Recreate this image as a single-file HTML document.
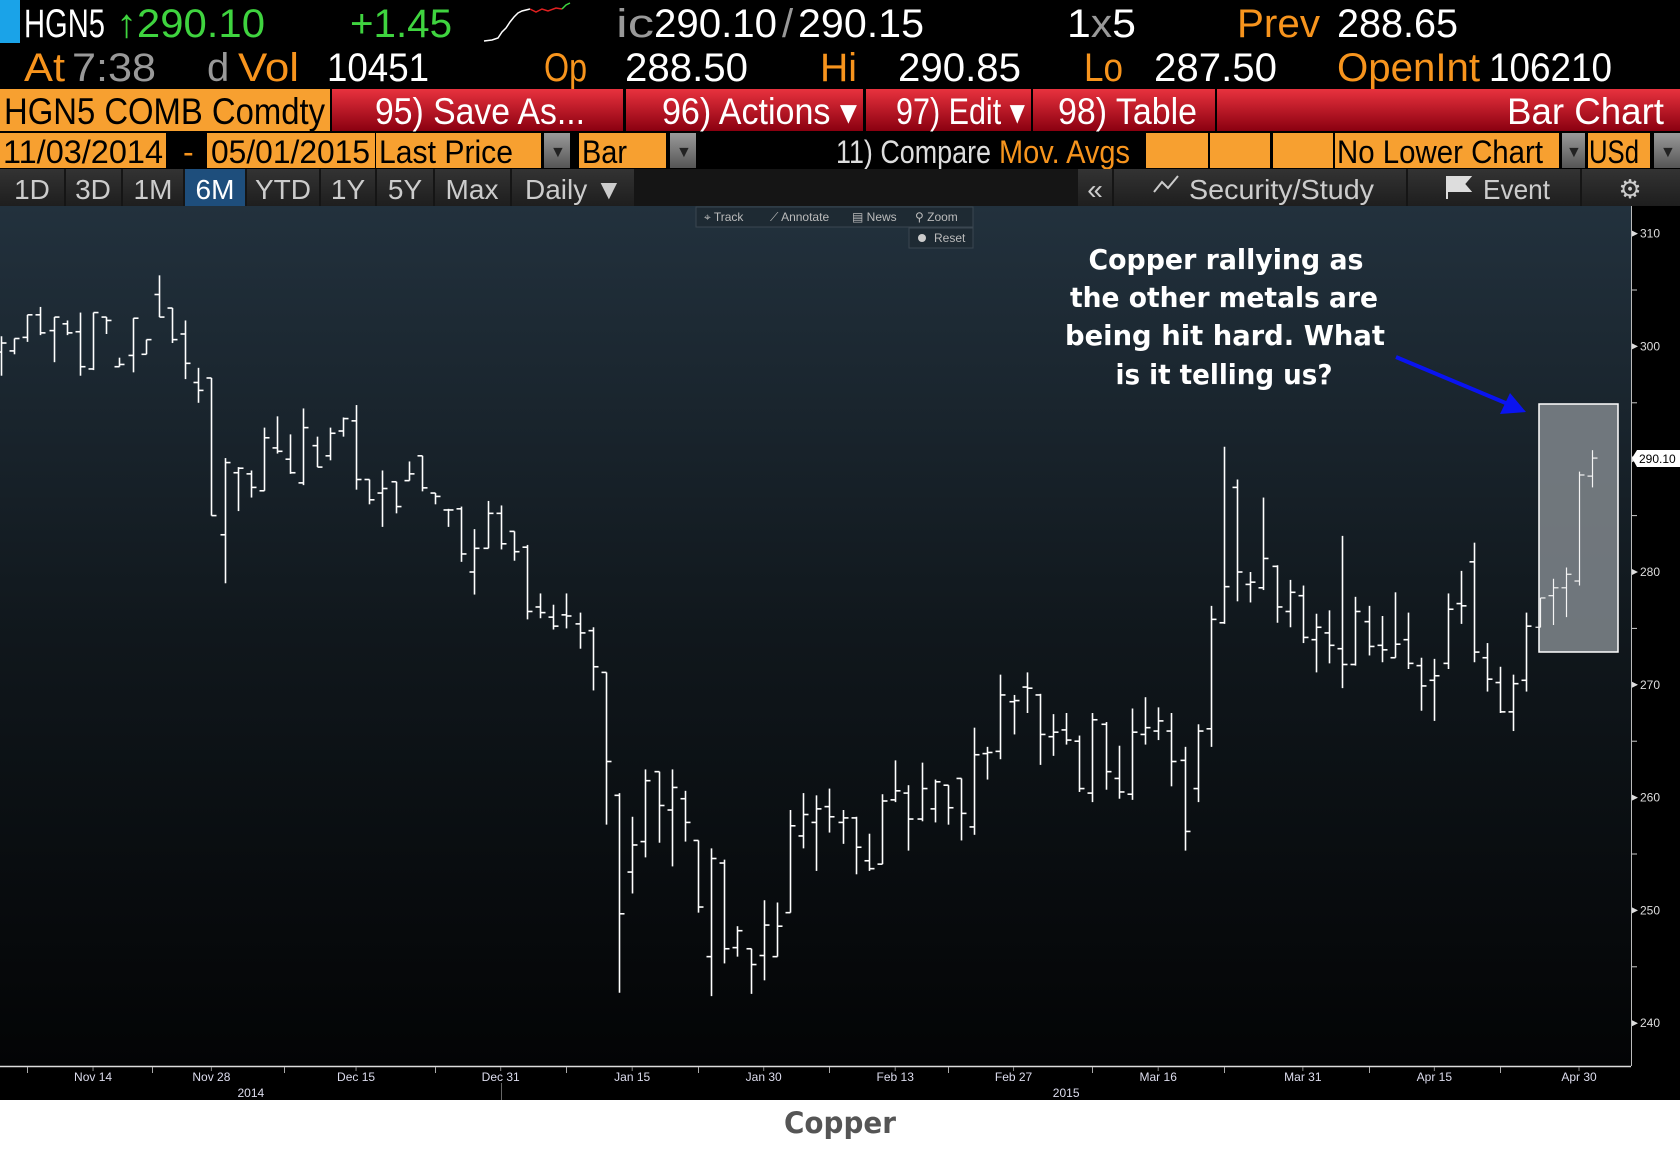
<!DOCTYPE html>
<html><head><meta charset="utf-8"><style>
html,body{margin:0;padding:0;background:#000;}
body{width:1680px;height:1151px;overflow:hidden;position:relative;font-family:"Liberation Sans Narrow","Liberation Sans",sans-serif;}
svg{display:block;}
</style></head><body>
<svg id="root" width="1680" height="1151" viewBox="0 0 1680 1151" xmlns="http://www.w3.org/2000/svg" font-family="Liberation Sans Narrow, Liberation Sans, sans-serif">
<defs>
<linearGradient id="bg" x1="0" y1="0" x2="0" y2="1"><stop offset="0" stop-color="#22313d"/><stop offset="0.5" stop-color="#10171c"/><stop offset="1" stop-color="#030405"/></linearGradient>
<linearGradient id="red" x1="0" y1="0" x2="0" y2="1"><stop offset="0" stop-color="#e8323e"/><stop offset="1" stop-color="#8a0010"/></linearGradient>
<linearGradient id="btn" x1="0" y1="0" x2="0" y2="1"><stop offset="0" stop-color="#333"/><stop offset="1" stop-color="#1e1e1e"/></linearGradient>
<linearGradient id="gry" x1="0" y1="0" x2="0" y2="1"><stop offset="0" stop-color="#9a9a9a"/><stop offset="1" stop-color="#555"/></linearGradient>
</defs>
<rect x="0" y="0" width="1680" height="206" fill="#000"/>
<!-- Row 1 -->
<g font-size="40">
<rect x="0" y="0" width="20" height="43" fill="#1aa3e8"/>
<text x="24" y="37" fill="#fff" textLength="81" lengthAdjust="spacingAndGlyphs">HGN5</text>
<text x="116" y="37" fill="#3fd43f" textLength="149" lengthAdjust="spacingAndGlyphs">↑290.10</text>
<text x="350" y="37" fill="#3fd43f" textLength="102" lengthAdjust="spacingAndGlyphs">+1.45</text>
<polyline points="484,41 492,40 498,38 502,32 506,28 510,22 514,17 518,13 522,11 526,10 530,9" fill="none" stroke="#fff" stroke-width="1.5"/>
<polyline points="530,9 536,12 542,9 548,11 556,8 562,9" fill="none" stroke="#e02020" stroke-width="1.5"/>
<polyline points="562,9 566,5 570,3" fill="none" stroke="#3fd43f" stroke-width="1.5"/>
<text x="616" y="37" fill="#999" textLength="38" lengthAdjust="spacingAndGlyphs">ic</text>
<text x="654" y="37" fill="#fff" textLength="123" lengthAdjust="spacingAndGlyphs">290.10</text>
<text x="782" y="37" fill="#999">/</text>
<text x="798" y="37" fill="#fff" textLength="126" lengthAdjust="spacingAndGlyphs">290.15</text>
<text x="1067" y="37" fill="#fff" textLength="69" lengthAdjust="spacingAndGlyphs">1<tspan fill="#999">x</tspan>5</text>
<text x="1237" y="37" fill="#f7941d" textLength="83" lengthAdjust="spacingAndGlyphs">Prev</text>
<text x="1337" y="37" fill="#fff" textLength="121" lengthAdjust="spacingAndGlyphs">288.65</text>
</g>
<!-- Row 2 -->
<g font-size="40">
<text x="24" y="81" fill="#f7941d" textLength="41" lengthAdjust="spacingAndGlyphs">At</text>
<text x="72" y="81" fill="#999" textLength="84" lengthAdjust="spacingAndGlyphs">7:38</text>
<text x="207" y="81" fill="#999">d</text>
<text x="238" y="81" fill="#f7941d" textLength="61" lengthAdjust="spacingAndGlyphs">Vol</text>
<text x="327" y="81" fill="#fff" textLength="102" lengthAdjust="spacingAndGlyphs">10451</text>
<text x="544" y="81" fill="#f7941d" textLength="43" lengthAdjust="spacingAndGlyphs">Op</text>
<text x="625" y="81" fill="#fff" textLength="123" lengthAdjust="spacingAndGlyphs">288.50</text>
<text x="820" y="81" fill="#f7941d" textLength="37" lengthAdjust="spacingAndGlyphs">Hi</text>
<text x="898" y="81" fill="#fff" textLength="123" lengthAdjust="spacingAndGlyphs">290.85</text>
<text x="1084" y="81" fill="#f7941d" textLength="39" lengthAdjust="spacingAndGlyphs">Lo</text>
<text x="1154" y="81" fill="#fff" textLength="123" lengthAdjust="spacingAndGlyphs">287.50</text>
<text x="1337" y="81" fill="#f7941d" textLength="143" lengthAdjust="spacingAndGlyphs">OpenInt</text>
<text x="1489" y="81" fill="#fff" textLength="123" lengthAdjust="spacingAndGlyphs">106210</text>
</g>
<!-- Row 3 -->
<g font-size="37">
<rect x="0" y="89" width="330" height="42" fill="#f7a030"/>
<text x="4" y="124" fill="#000" textLength="321" lengthAdjust="spacingAndGlyphs">HGN5 COMB Comdty</text>
<rect x="332" y="89" width="291" height="42" fill="url(#red)"/>
<text x="375" y="124" fill="#fff" textLength="210" lengthAdjust="spacingAndGlyphs">95) Save As...</text>
<rect x="626" y="89" width="237" height="42" fill="url(#red)"/>
<text x="662" y="124" fill="#fff" textLength="195" lengthAdjust="spacingAndGlyphs">96) Actions ▾</text>
<rect x="866" y="89" width="165" height="42" fill="url(#red)"/>
<text x="896" y="124" fill="#fff" textLength="129" lengthAdjust="spacingAndGlyphs">97) Edit ▾</text>
<rect x="1033" y="89" width="182" height="42" fill="url(#red)"/>
<text x="1058" y="124" fill="#fff" textLength="139" lengthAdjust="spacingAndGlyphs">98) Table</text>
<rect x="1217" y="89" width="463" height="42" fill="url(#red)"/>
<text x="1507" y="124" fill="#fff" textLength="157" lengthAdjust="spacingAndGlyphs">Bar Chart</text>
</g>
<!-- Row 4 -->
<g font-size="32">
<rect x="0" y="133" width="166" height="35" fill="#f7a030"/>
<text x="3" y="163" fill="#000" textLength="160" lengthAdjust="spacingAndGlyphs">11/03/2014</text>
<text x="183" y="163" fill="#f7941d">-</text>
<rect x="207" y="133" width="168" height="35" fill="#f7a030"/>
<text x="211" y="163" fill="#000" textLength="159" lengthAdjust="spacingAndGlyphs">05/01/2015</text>
<rect x="376" y="133" width="165" height="35" fill="#f7a030"/>
<text x="379" y="163" fill="#000" textLength="134" lengthAdjust="spacingAndGlyphs">Last Price</text>
<rect x="544" y="133" width="26" height="35" fill="url(#gry)"/>
<text x="550" y="157" fill="#222" font-size="16">▼</text>
<rect x="579" y="133" width="87" height="35" fill="#f7a030"/>
<text x="582" y="163" fill="#000" textLength="45" lengthAdjust="spacingAndGlyphs">Bar</text>
<rect x="670" y="133" width="26" height="35" fill="url(#gry)"/>
<text x="676" y="157" fill="#222" font-size="16">▼</text>
<text x="836" y="163" fill="#ddd" textLength="155" lengthAdjust="spacingAndGlyphs">11) Compare</text>
<text x="999" y="163" fill="#f7941d" textLength="131" lengthAdjust="spacingAndGlyphs">Mov. Avgs</text>
<rect x="1146" y="133" width="62" height="35" fill="#f7a030"/>
<rect x="1210" y="133" width="60" height="35" fill="#f7a030"/>
<rect x="1273" y="133" width="60" height="35" fill="#f7a030"/>
<rect x="1335" y="133" width="224" height="35" fill="#f7a030"/>
<text x="1337" y="163" fill="#000" textLength="206" lengthAdjust="spacingAndGlyphs">No Lower Chart</text>
<rect x="1562" y="133" width="23" height="35" fill="url(#gry)"/>
<text x="1566" y="157" fill="#222" font-size="16">▼</text>
<rect x="1588" y="133" width="62" height="35" fill="#f7a030"/>
<text x="1589" y="163" fill="#000" textLength="50" lengthAdjust="spacingAndGlyphs">USd</text>
<rect x="1654" y="133" width="26" height="35" fill="url(#gry)"/>
<text x="1660" y="157" fill="#222" font-size="16">▼</text>
</g>
<!-- Row 5 -->
<g font-size="28" fill="#ccc">
<rect x="0" y="169" width="1680" height="37" fill="#151515"/>
<rect x="0" y="169" width="64" height="37" fill="url(#btn)"/><text x="32" y="199" text-anchor="middle" fill="#ccc">1D</text>
<rect x="66" y="169" width="55" height="37" fill="url(#btn)"/><text x="93" y="199" text-anchor="middle" fill="#ccc">3D</text>
<rect x="123" y="169" width="60" height="37" fill="url(#btn)"/><text x="153" y="199" text-anchor="middle" fill="#ccc">1M</text>
<rect x="185" y="169" width="60" height="37" fill="#1e4e7c"/><text x="215" y="199" text-anchor="middle" fill="#fff">6M</text>
<rect x="247" y="169" width="72" height="37" fill="url(#btn)"/><text x="283" y="199" text-anchor="middle" fill="#ccc">YTD</text>
<rect x="321" y="169" width="54" height="37" fill="url(#btn)"/><text x="348" y="199" text-anchor="middle" fill="#ccc">1Y</text>
<rect x="377" y="169" width="56" height="37" fill="url(#btn)"/><text x="405" y="199" text-anchor="middle" fill="#ccc">5Y</text>
<rect x="435" y="169" width="75" height="37" fill="url(#btn)"/><text x="472" y="199" text-anchor="middle" fill="#ccc">Max</text>
<rect x="512" y="169" width="122" height="37" fill="url(#btn)"/><text x="525" y="199" fill="#ccc">Daily ▼</text>
<rect x="1078" y="169" width="34" height="37" fill="url(#btn)"/><text x="1095" y="199" text-anchor="middle" fill="#ccc">«</text>
<rect x="1114" y="169" width="292" height="37" fill="url(#btn)"/>
<g stroke="#ccc" stroke-width="2" fill="none"><polyline points="1154,192 1162,182 1168,188 1178,176"/></g>
<text x="1189" y="199" fill="#ccc" textLength="185" lengthAdjust="spacingAndGlyphs">Security/Study</text>
<rect x="1408" y="169" width="172" height="37" fill="url(#btn)"/>
<path d="M1447,176 L1447,199 M1447,177 L1470,177 L1464,184 L1470,191 L1447,191" fill="#ddd" stroke="#ddd" stroke-width="2"/>
<text x="1483" y="199" fill="#ccc" textLength="67" lengthAdjust="spacingAndGlyphs">Event</text>
<rect x="1582" y="169" width="98" height="37" fill="url(#btn)"/>
<text x="1630" y="198" text-anchor="middle" fill="#ccc" font-size="26">⚙</text>
</g>
<!-- Chart -->
<rect x="0" y="206" width="1631" height="860" fill="url(#bg)"/>
<rect x="1631" y="206" width="49" height="894" fill="#000"/>
<line x1="1631.5" y1="206" x2="1631.5" y2="1066" stroke="#bbb" stroke-width="1"/>
<g id="yaxis"></g>
<g id="bars"></g>
<!-- x axis -->
<rect x="0" y="1066" width="1631" height="34" fill="#000"/>
<line x1="0" y1="1066.5" x2="1631" y2="1066.5" stroke="#ddd" stroke-width="1.5"/>
<g id="xaxis"></g>
<!-- chart tools -->
<g font-family="Liberation Sans, sans-serif" font-size="12" fill="#ccc">
<rect x="696" y="207" width="277" height="20" fill="#1e2a33" stroke="#3a4650"/>
<text x="704" y="221" fill="#bbb">⌖ Track</text>
<text x="770" y="221" fill="#bbb">⟋ Annotate</text>
<text x="852" y="221" fill="#bbb">▤ News</text>
<text x="915" y="221" fill="#bbb">⚲ Zoom</text>
<rect x="909" y="228" width="64" height="20" fill="#1e2a33" stroke="#3a4650"/>
<circle cx="922" cy="238" r="4" fill="#ccc"/>
<text x="934" y="242" fill="#bbb">Reset</text>
</g>
<!-- annotation -->
<g font-family="DejaVu Sans, sans-serif" font-weight="bold" font-size="28" fill="#fff" text-anchor="middle">
<text x="1226" y="269" textLength="275" lengthAdjust="spacingAndGlyphs">Copper rallying as</text>
<text x="1224" y="307" textLength="308" lengthAdjust="spacingAndGlyphs">the other metals are</text>
<text x="1225" y="345" textLength="320" lengthAdjust="spacingAndGlyphs">being hit hard.  What</text>
<text x="1224" y="384" textLength="217" lengthAdjust="spacingAndGlyphs">is it telling us?</text>
</g>
<g>
<line x1="1396" y1="357" x2="1508" y2="404" stroke="#0a14f0" stroke-width="4"/>
<polygon points="1526,412 1500,414 1510,393" fill="#0a14f0"/>
</g>
<rect x="1539" y="404" width="79" height="248" fill="#7a8186" fill-opacity="0.9" stroke="#fff" stroke-width="1.5"/>
<g id="bars2"></g>
<g>
<polygon points="1632,458 1637,450 1680,450 1680,467 1637,467" fill="#fff"/>
<text x="1639" y="463" font-family="Liberation Sans, sans-serif" font-size="12" fill="#000">290.10</text>
</g>
<!-- footer -->
<rect x="0" y="1100" width="1680" height="51" fill="#fff"/>
<text x="840" y="1133" text-anchor="middle" font-family="DejaVu Sans, sans-serif" font-weight="bold" font-size="29" fill="#555" textLength="112" lengthAdjust="spacingAndGlyphs">Copper</text>
</svg>
<script>
const highs = [300.9,300.7,302.8,303.5,302.6,302.3,303.0,303.0,302.6,299.0,302.5,300.6,306.3,303.4,302.3,298.1,297.2,290.1,289.3,289.0,292.8,293.8,292.2,294.5,292.0,292.8,293.7,294.8,288.2,289.0,288.0,289.8,290.3,287.0,285.6,285.8,283.8,286.3,285.9,283.6,282.4,278.1,277.1,278.1,276.4,275.1,271.1,260.4,258.3,262.5,262.3,262.5,260.6,256.2,255.5,254.5,248.6,246.6,250.9,250.7,258.9,260.4,260.2,260.8,258.9,258.3,256.8,260.3,263.3,261.1,263.1,261.6,261.1,261.7,266.2,264.5,270.9,269.1,271.1,269.2,267.4,267.5,265.5,267.5,266.7,264.6,267.9,268.9,268.0,267.5,264.5,266.5,277.0,291.1,288.2,280.0,286.6,280.6,279.3,278.8,276.3,276.6,283.2,277.8,277.0,276.1,278.2,276.4,272.4,272.3,278.1,280.1,282.6,273.7,271.6,270.9,276.4,277.7,279.4,280.4,288.9,290.8];
const lows = [297.4,299.3,300.4,301.0,298.6,301.0,297.4,297.9,301.1,298.2,297.7,299.3,302.6,300.3,297.1,295.0,285.0,279.0,285.4,286.6,287.2,290.5,288.7,287.7,289.3,289.9,292.0,287.3,286.0,284.0,285.2,288.1,287.15,286.0,284.0,280.9,278.0,282.1,282.0,281.0,275.8,275.9,274.9,275.0,273.2,269.5,257.6,242.7,251.5,254.7,256.0,253.9,256.1,249.8,242.4,245.3,245.9,242.6,243.8,245.9,249.8,255.5,253.5,256.9,255.9,253.2,253.5,254.1,259.6,255.3,257.9,257.8,257.6,256.2,256.7,261.6,263.4,265.6,267.5,262.9,263.7,264.7,260.5,259.6,260.7,259.9,259.8,264.7,265.1,261.0,255.3,259.6,264.5,275.4,277.4,277.3,278.4,275.5,275.1,273.7,271.1,271.9,269.7,271.7,272.6,272.0,272.4,271.4,267.7,266.8,271.4,275.4,272.0,269.4,267.5,265.9,269.4,275.1,275.3,276.0,278.8,287.5];
const opens = [299.5,299.6,300.8,302.8,301.4,302.0,301.3,298.0,302.6,298.2,299.2,299.3,304.6,303.4,301.1,296.8,297.2,283.3,288.8,288.7,287.2,291.0,290.0,287.9,291.2,290.3,292.5,293.4,288.2,287.0,288.0,288.1,290.3,287.0,285.5,285.6,280.0,282.1,285.2,283.6,282.2,276.9,276.0,276.2,275.4,274.8,271.1,260.2,253.4,256.1,262.3,258.9,259.9,256.2,245.9,254.2,246.7,246.6,246.0,245.9,249.8,256.6,257.8,259.2,257.8,258.2,254.4,254.1,259.8,260.4,258.1,259.0,261.1,261.7,257.4,263.9,264.1,268.5,269.8,269.1,265.4,266.0,265.0,260.4,266.5,261.7,260.3,265.6,265.9,265.9,263.3,260.8,266.1,275.5,287.5,278.9,278.6,280.5,276.5,277.9,274.0,274.6,273.2,271.8,275.6,273.5,272.4,274.0,271.7,270.4,271.9,277.2,280.9,272.4,270.2,267.6,270.4,275.1,277.9,278.6,279.2,288.5];
const closes = [300.3,300.7,302.8,301.2,302.6,301.2,298.2,303.0,302.3,298.4,302.5,300.6,302.6,300.6,298.5,296.1,285.0,289.7,289.2,287.5,291.9,290.7,288.8,292.8,289.3,292.3,293.6,288.2,286.4,287.4,285.8,288.7,287.46,286.7,285.5,281.6,282.1,285.2,282.5,281.8,276.5,276.4,275.2,276.1,274.6,271.6,263.2,249.7,255.8,261.5,259.3,260.9,257.8,250.3,254.6,246.6,248.2,245.2,248.7,248.6,257.5,258.5,259.0,258.3,258.2,255.6,253.7,259.7,260.6,258.1,260.8,261.4,259.1,258.6,263.8,264.0,269.1,268.6,269.7,265.6,265.8,265.1,260.8,266.9,262.3,260.5,265.8,266.2,266.8,263.2,257.0,265.9,275.8,278.7,280.0,279.1,281.2,276.9,278.2,274.2,275.1,273.5,271.8,276.5,273.4,273.1,273.6,271.9,269.9,270.8,276.7,277.0,272.9,270.5,267.6,270.1,275.2,277.7,278.6,279.8,288.6,290.1];
const xTickLabels = ["Nov 14","Nov 28","Dec 15","Dec 31","Jan 15","Jan 30","Feb 13","Feb 27","Mar 16","Mar 31","Apr 15","Apr 30"];
const xTickIndex = [7,16,27,38,48,58,68,77,88,99,109,120];
const xSepIndex = [2,11.5,21.5,33,43,53,63,72,83,93,104,114];
const yearLabels = ["2014","2015"];
const yearIndex = [19,81];
const yTicks = [310,300,290,280,270,260,250,240];

const NS = "http://www.w3.org/2000/svg";
function xs(i){ return 1 + i * 13.15; }
function ys(p){ return 233.6 + (310 - p) * 11.28; }
function mk(tag, attrs, parent){ const e = document.createElementNS(NS, tag); for (const k in attrs) e.setAttribute(k, attrs[k]); parent.appendChild(e); return e; }

const barsG = document.getElementById('bars');
const bars2G = document.getElementById('bars2');
for (let i = 0; i < highs.length; i++) {
  const inBox = i >= 117;
  const g = mk('g', {stroke: inBox ? '#f4f4f4' : '#fff', 'stroke-width': inBox ? '1.2' : '1.6', fill: 'none'}, inBox ? bars2G : barsG);
  
  
  const x = Math.round(xs(i)) + 0.5;
  mk('line', {x1: x, x2: x, y1: ys(highs[i]), y2: ys(lows[i])}, g);
  mk('line', {x1: x - 5, x2: x, y1: ys(opens[i]), y2: ys(opens[i])}, g);
  mk('line', {x1: x, x2: x + 5, y1: ys(closes[i]), y2: ys(closes[i])}, g);
}

const ya = document.getElementById('yaxis');
for (let v = 240; v <= 310; v += 5) {
  const y = ys(v);
  const t = mk('line', {x1: 1632, x2: 1637, y1: y, y2: y, stroke: '#ccc', 'stroke-width': 1}, ya);
  
  
}
yTicks.forEach(function(v){
  const y = ys(v);
  const tri = mk('polygon', {points: (1632) + ',' + (y - 3) + ' ' + (1638) + ',' + y + ' ' + (1632) + ',' + (y + 3), fill: '#ddd'}, ya);
  
  
  const t = mk('text', {x: 1640, y: y + 4, fill: '#ddd', 'font-size': 12, 'font-family': 'Liberation Sans, sans-serif'}, ya);
  
  
  t.textContent = String(v);
});

const xa = document.getElementById('xaxis');
xSepIndex.forEach(function(i){
  const x = Math.round(xs(i)) + 0.5;
  const l = mk('line', {x1: x, x2: x, y1: 1067, y2: 1073, stroke: '#aaa', 'stroke-width': 1}, xa);
  
  
});
xTickLabels.forEach(function(lab, k){
  const x = xs(xTickIndex[k]);
  const l = mk('line', {x1: x, x2: x, y1: 1067, y2: 1071, stroke: '#888', 'stroke-width': 1}, xa);
  
  
  const t = mk('text', {x: x, y: 1081, fill: '#dde', 'font-size': 12, 'text-anchor': 'middle', 'font-family': 'Liberation Sans Narrow, Liberation Sans, sans-serif'}, xa);
  
  
  t.textContent = lab;
});
const yl = mk('line', {x1: Math.round(xs(38)) + 0.5, x2: Math.round(xs(38)) + 0.5, y1: 1083, y2: 1100, stroke: '#666', 'stroke-width': 1}, xa);


yearLabels.forEach(function(lab, k){
  const t = mk('text', {x: xs(yearIndex[k]), y: 1097, fill: '#dde', 'font-size': 12, 'text-anchor': 'middle', 'font-family': 'Liberation Sans Narrow, Liberation Sans, sans-serif'}, xa);
  
  
  t.textContent = lab;
});
</script>
</body></html>
